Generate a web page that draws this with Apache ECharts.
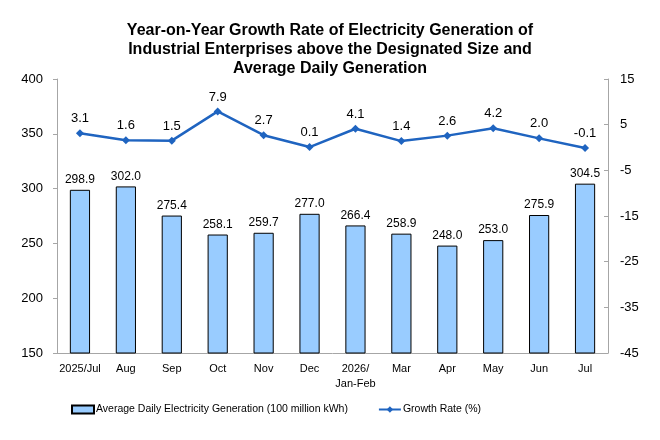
<!DOCTYPE html>
<html>
<head>
<meta charset="UTF-8">
<title></title>
<script src="https://cdn.jsdelivr.net/npm/echarts@6/dist/echarts.min.js"></script>
<style>
	html, body { margin: 0; padding: 0; background: #fff; }
	#main { width: 660px; height: 440px; }
</style>
</head>
<body>
<div id="main"></div>
<script>
// data
var months = ['2025/Jul', 'Aug', 'Sep', 'Oct', 'Nov', 'Dec', '2026/\nJan-Feb', 'Mar', 'Apr', 'May', 'Jun', 'Jul'];
var dailyGen = [298.9, 302.0, 275.4, 258.1, 259.7, 277.0, 266.4, 258.9, 248.0, 253.0, 275.9, 304.5];
var growthRate = [3.1, 1.6, 1.5, 7.9, 2.7, 0.1, 4.1, 1.4, 2.6, 4.2, 2.0, -0.1];
var barName = 'Average Daily Electricity Generation (100 million kWh)';
var lineName = 'Growth Rate (%)';

var myChart = echarts.init(document.getElementById('main'));
var font = 'Arial, "Liberation Sans", sans-serif';

var option = {
	animation: false,
	title: {
		text: 'Year-on-Year Growth Rate of Electricity Generation of\nIndustrial Enterprises above the Designated Size and\nAverage Daily Generation',
		left: 'center',
		top: 16,
		textStyle: {
			fontFamily: font,
			fontSize: 16,
			fontWeight: 'bold',
			color: '#000',
			lineHeight: 19
		}
	},
	legend: {
		bottom: 20,
		left: 66,
		itemGap: 30,
		itemWidth: 22,
		itemHeight: 8,
		textStyle: { fontFamily: font, fontSize: 10.5, color: '#000', padding: [0, 0, 0, -3] },
		data: [
			{ name: barName, icon: 'rect' },
			{ name: lineName }
		]
	},
	grid: {
		left: 57,
		right: 52,
		top: 79,
		bottom: 87
	},
	xAxis: {
		type: 'category',
		data: months,
		axisLine: { onZero: false, lineStyle: { color: '#a6a6a6' } },
		axisTick: { length: 4, lineStyle: { color: '#a6a6a6' } },
		axisLabel: { interval: 0, fontFamily: font, fontSize: 11, color: '#000', margin: 8, lineHeight: 15 }
	},
	yAxis: [
		{
			type: 'value',
			min: 150,
			max: 400,
			interval: 50,
			splitLine: { show: false },
			axisLine: { show: true, lineStyle: { color: '#a6a6a6' } },
			axisTick: { show: true, inside: false, length: 4, lineStyle: { color: '#a6a6a6' } },
			axisLabel: { fontFamily: font, fontSize: 13, color: '#000', margin: 14 }
		},
		{
			type: 'value',
			min: -45,
			max: 15,
			interval: 10,
			splitLine: { show: false },
			axisLine: { show: true, lineStyle: { color: '#a6a6a6' } },
			axisTick: { show: true, inside: true, length: 4, lineStyle: { color: '#a6a6a6' } },
			axisLabel: { fontFamily: font, fontSize: 13, color: '#000', margin: 12 }
		}
	],
	series: [
		{
			name: barName,
			type: 'bar',
			data: dailyGen,
			barWidth: '44%',
			itemStyle: {
				color: '#99ccff',
				borderColor: '#000',
				borderWidth: 1
			},
			label: {
				show: true,
				position: 'top',
				distance: 4,
				fontFamily: font,
				fontSize: 12,
				color: '#000',
				formatter: function (p) { return p.value.toFixed(1); }
			}
		},
		{
			name: lineName,
			type: 'line',
			yAxisIndex: 1,
			data: growthRate,
			symbol: 'diamond',
			symbolSize: 8,
			lineStyle: { color: '#1f64c0', width: 2.5 },
			itemStyle: { color: '#1f64c0' },
			label: {
				show: true,
				position: 'top',
				distance: 4,
				fontFamily: font,
				fontSize: 13,
				color: '#000',
				formatter: function (p) { return p.value.toFixed(1); }
			}
		}
	]
};
myChart.setOption(option);
</script>
</body>
</html>
